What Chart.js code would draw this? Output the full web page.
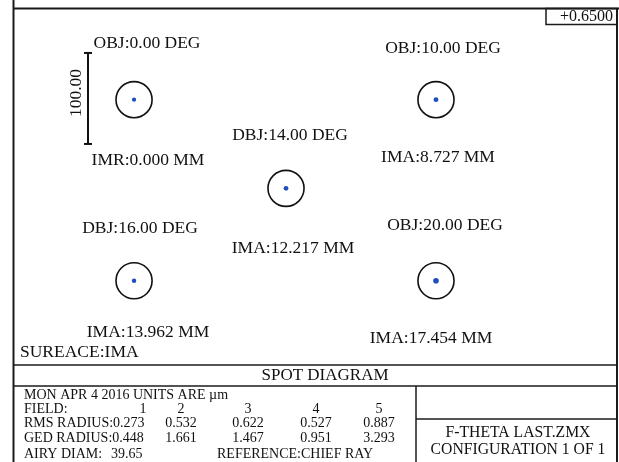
<!DOCTYPE html>
<html>
<head>
<meta charset="utf-8">
<script src="https://cdn.jsdelivr.net/npm/chart.js@4/dist/chart.umd.min.js"></script>
<style>
  html, body { margin: 0; padding: 0; background: #fff; }
  canvas { display: block; }
</style>
</head>
<body>
<canvas id="spotChart" width="619" height="462"></canvas>
<script>
// field data
const fieldDeg = [0.00, 10.00, 14.00, 16.00, 20.00];
const imaHeight = [0.000, 8.727, 12.217, 13.962, 17.454];
const rmsRadius = [0.273, 0.532, 0.622, 0.527, 0.887];
const gedRadius = [0.448, 1.661, 1.467, 0.951, 3.293];
const objPrefix = ['OBJ', 'OBJ', 'DBJ', 'DBJ', 'OBJ'];
const imaPrefix = ['IMR', 'IMA', 'IMA', 'IMA', 'IMA'];
const airyDiam = 39.65;     // um
const scaleBarUm = 100;
const wavelength = '+0.6500';

// where each field sits in the layout (column / row of the grid, in um)
const cellCol = [0, 2, 1, 0, 2];
const cellRow = [0, 0, 1, 2, 2];
const colUm = [147.3, 314.3, 479.1];
const rowUm = [109.5, 207, 308.5];
const barPos = { x: 96.7, y: 108.2 };

// label placement (pixels)
const topLabelX = [147, 443, 290, 140, 445];
const topLabelY = [43, 48, 135, 228, 225];
const botLabelX = [148, 438, 293, 148, 431];
const botLabelY = [160, 157, 248, 332, 338];

const W = 619, H = 462;
const PX_PER_UM = 0.91;
const FONT = '"Liberation Serif", "Times New Roman", serif';

const centers = fieldDeg.map((d, i) => ({ x: colUm[cellCol[i]], y: rowUm[cellRow[i]] }));

function umToPx(chart, um) {
  const s = chart.scales.x;
  return Math.abs(s.getPixelForValue(um) - s.getPixelForValue(0));
}

const frame = {
  id: 'frame',
  beforeDraw(chart) {
    const c = chart.ctx;
    c.save();
    c.fillStyle = '#fff';
    c.fillRect(0, 0, W, H);
    c.restore();
  },
  afterDraw(chart) {
    const c = chart.ctx;
    c.save();
    c.strokeStyle = '#1a1a1a';
    c.lineWidth = 2;
    const line = (x1, y1, x2, y2) => { c.beginPath(); c.moveTo(x1, y1); c.lineTo(x2, y2); c.stroke(); };
    line(13.5, 0, 13.5, H);
    line(13, 8.5, W, 8.5);
    line(617, 8, 617, H);
    c.lineWidth = 1.5;
    c.strokeRect(546, 8.5, 71, 16);
    line(13, 365, 617, 365);
    line(13, 386, 617, 386);
    line(416, 386, 416, H);
    line(416, 419, 617, 419);

    c.fillStyle = '#111';
    c.textBaseline = 'middle';

    // field labels above and below each spot
    c.font = '17.5px ' + FONT;
    c.textAlign = 'center';
    fieldDeg.forEach((d, i) => {
      c.fillText(objPrefix[i] + ':' + d.toFixed(2) + ' DEG', topLabelX[i], topLabelY[i]);
      c.fillText(imaPrefix[i] + ':' + imaHeight[i].toFixed(3) + ' MM', botLabelX[i], botLabelY[i]);
    });

    // scale bar value
    c.save();
    c.translate(76, 93);
    c.rotate(-Math.PI / 2);
    c.fillText(scaleBarUm.toFixed(2), 0, 0);
    c.restore();

    c.textAlign = 'left';
    c.fillText('SUREACE:IMA', 20, 352);

    c.font = '16px ' + FONT;
    c.textAlign = 'right';
    c.fillText(wavelength, 613, 17);

    c.font = '17px ' + FONT;
    c.textAlign = 'center';
    c.fillText('SPOT DIAGRAM', 325, 376);

    // stats table
    c.font = '14px ' + FONT;
    c.textAlign = 'left';
    const rows = [395, 409, 423, 438, 454];
    c.fillText('MON APR 4 2016 UNITS ARE \u00b5m', 24, rows[0]);
    c.fillText('FIELD:', 24, rows[1]);
    c.fillText('RMS RADIUS:' + rmsRadius[0].toFixed(3), 24, rows[2]);
    c.fillText('GED RADIUS:' + gedRadius[0].toFixed(3), 24, rows[3]);
    c.fillText('AIRY DIAM:', 24, rows[4]);
    c.fillText(airyDiam.toFixed(2), 111, rows[4]);
    c.fillText('REFERENCE:CHIEF RAY', 217, rows[4]);
    c.textAlign = 'center';
    const colX = [143, 181, 248, 316, 379];
    fieldDeg.forEach((d, i) => {
      c.fillText(String(i + 1), colX[i], rows[1]);
      if (i > 0) {
        c.fillText(rmsRadius[i].toFixed(3), colX[i], rows[2]);
        c.fillText(gedRadius[i].toFixed(3), colX[i], rows[3]);
      }
    });

    c.font = '15.7px ' + FONT;
    c.fillText('F-THETA LAST.ZMX', 518, 433);
    c.fillText('CONFIGURATION 1 OF 1', 518, 450);
    c.restore();
  }
};

new Chart(document.getElementById('spotChart'), {
  type: 'scatter',
  data: {
    datasets: [
      {
        label: 'Airy disk',
        data: centers,
        pointRadius: ctx => umToPx(ctx.chart, airyDiam / 2),
        pointHoverRadius: ctx => umToPx(ctx.chart, airyDiam / 2),
        pointBackgroundColor: 'rgba(0,0,0,0)',
        pointBorderColor: '#111',
        pointBorderWidth: 1.6
      },
      {
        label: 'Spot',
        data: centers,
        pointRadius: ctx => 2 + gedRadius[ctx.dataIndex] * 0.25,
        pointBackgroundColor: '#1f4fbf',
        pointBorderWidth: 0
      },
      {
        type: 'line',
        label: 'Scale bar',
        data: [
          { x: barPos.x, y: barPos.y - scaleBarUm / 2 },
          { x: barPos.x, y: barPos.y + scaleBarUm / 2 }
        ],
        borderColor: '#111',
        borderWidth: 2,
        pointStyle: 'line',
        pointRadius: 4,
        pointBorderColor: '#111',
        pointBorderWidth: 2
      }
    ]
  },
  options: {
    responsive: false,
    animation: false,
    events: [],
    layout: { padding: 0, autoPadding: false },
    plugins: { legend: { display: false }, tooltip: { enabled: false } },
    scales: {
      x: { type: 'linear', min: 0, max: W / PX_PER_UM, display: false },
      y: { type: 'linear', min: 0, max: H / PX_PER_UM, reverse: true, display: false }
    }
  },
  plugins: [frame]
});
</script>
</body>
</html>
